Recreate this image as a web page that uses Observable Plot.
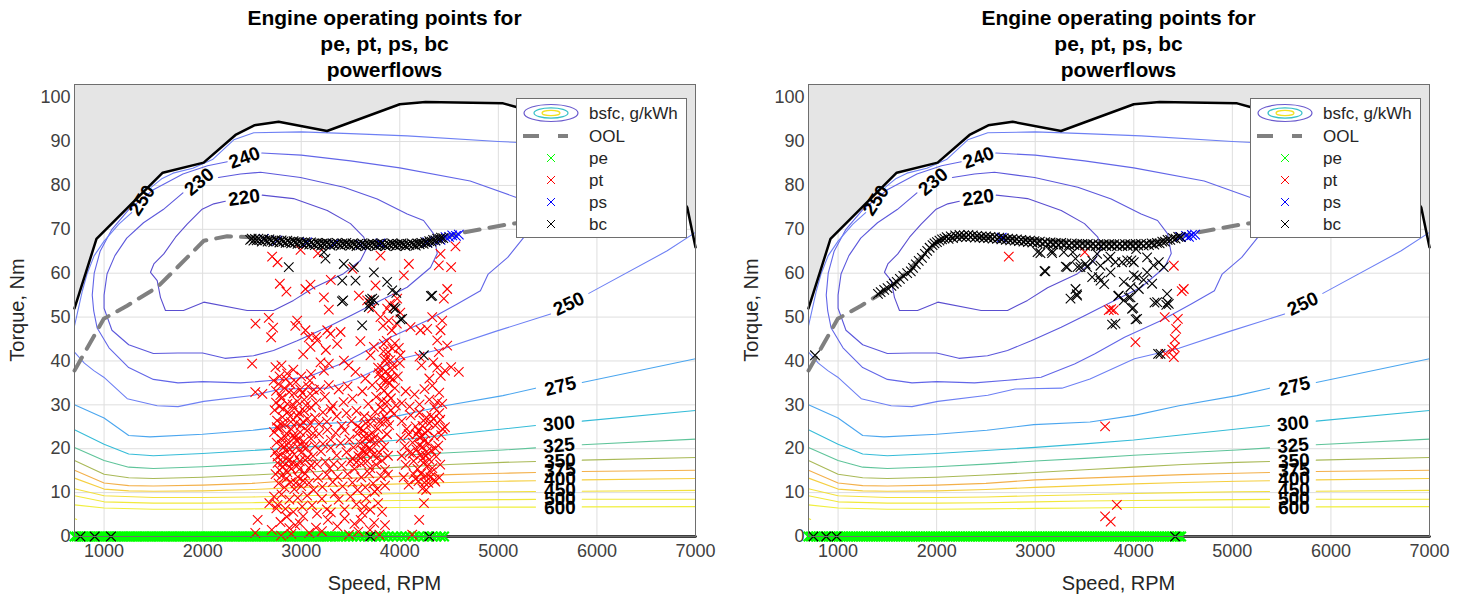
<!DOCTYPE html>
<html><head><meta charset="utf-8">
<script src="https://cdn.jsdelivr.net/npm/d3@7"></script>
<script src="https://cdn.jsdelivr.net/npm/@observablehq/plot@0.6"></script>
<style>
body{margin:0;background:#fff;width:1468px;height:597px;overflow:hidden;font-family:"Liberation Sans",Arial,Helvetica,sans-serif;}
.panel{position:absolute;top:0;width:734px;height:597px;}
.tl{position:absolute;width:400px;text-align:center;font-weight:bold;font-size:21px;line-height:26px;color:#000;white-space:nowrap;}
.xl{position:absolute;width:300px;text-align:center;font-size:20px;line-height:24px;color:#262626;}
.yl{position:absolute;width:300px;text-align:center;font-size:20px;line-height:24px;color:#262626;transform:rotate(-90deg);}
.plot{position:absolute;left:0;top:80px;}
.leg{position:absolute;left:516px;top:98px;}
</style>
</head><body>
<div id="p0" class="panel" style="left:0px"></div>
<div id="p1" class="panel" style="left:734px"></div>
<script>
// ---------- axes ----------
const xTicks = [1000,2000,3000,4000,5000,6000,7000];
const yTicks = [0,10,20,30,40,50,60,70,80,90,100];
const titleLines = ["Engine operating points for","pe, pt, ps, bc","powerflows"];
const xLabel = "Speed, RPM";
const yLabel = "Torque, Nm";
const legendLabels = ["bsfc, g/kWh","OOL","pe","pt","ps","bc"];

// ---------- engine limits ----------
const maxTorque = [[700,52],[923,67.8],[1595,82.9],[2010,85.2],[2333,91.5],[2524,93.7],[2771,94.5],[3262,92.4],[4000,98.5],[4262,99],[5048,98.7],[5191,97.8],[5500,95.5],[6000,91],[6500,84],[6848,77.3],[6916,75],[7000,65.9]];
const minTorque = [[700,0],[7000,0]];
const ool = [[700,37.8],[997,49.6],[1234,52.6],[1539,56.8],[1742,61.3],[2012,67.4],[2249,68.4],[2486,68.2],[3000,67.6],[3500,67.1],[4000,67],[4250,67.3],[4450,68.2],[4650,69.3],[5090,71.1],[5500,72.3]];

// ---------- bsfc contours (null = break for inline label) ----------
const levels = [220,230,240,250,275,300,325,350,375,400,450,500,600];
const levelColors = ["#5a4ed0","#5c58dc","#6266e8","#6e80f4","#4ba6ef","#36bcd8","#5fc49a","#a9b957","#f3b04a","#f5cf40","#f3e13c","#f1e93c","#f0ef3e"];
const c220 = [[2604,77.8],[2922,77.0],[3264,74.3],[3500,71.3],[3635,68.2],[3669,65.9],[3601,62.9],[3429,59.9],[3125,56.7],[2922,53.8],[2719,51.5],[2452,51.5],[2012,53.4],[1806,51.5],[1623,51.5],[1572,54.5],[1539,58.3],[1471,60.2],[1505,62.1],[1606,64.4],[1725,68.2],[1843,71.2],[1995,74.6],[2113,75.8],[2230,76.4]];
const c230 = [[2160,81.8],[2384,82.6],[2587,83],[2993,81.8],[3432,79.6],[3771,76.9],[4075,73.5],[4241,72],[4342,69],[4380,64.5],[4312,61.3],[4075,56.8],[3804,53.8],[3500,50.3],[3264,47.7],[2959,44.6],[2719,42.4],[2516,41.2],[2226,40.6],[2000,41.8],[1750,41.8],[1500,41.7],[1250,43.7],[1080,47],[1000,52],[1000,55],[1030,59.8],[1110,64],[1230,68],[1400,71.5],[1600,74.5],[1800,78.3]];
const c240 = [[2600,87.4],[3000,86.9],[3500,85.6],[4000,84],[4714,81],[5190,77.2],[5450,73],[5420,70],[5260,68.2],[5095,63.6],[4897,59.8],[4818,56],[4583,53],[4278,49.2],[3906,45.4],[3601,41.6],[3399,39.3],[3060,36.3],[2722,35.6],[2384,35],[2000,35.3],[1750,35],[1500,35.8],[1250,38.5],[1050,43],[930,47.5],[895,51.4],[880,55],[900,60],[960,65],[1080,70],[1250,74.5],[1500,79],[1800,82.6],[2050,84.5],[2250,85.4]];
const c250 = [[700,48],[745,52.5],[780,56],[830,60],[900,64],[1000,67.3],[1150,71.2],[1280,73.8],null,[1480,79.6],[1590,81.6],[1700,82.8],[1900,83.9],[2100,85.9],[2316,90.4],[2519,92],[3000,92.2],[3500,91.8],[4075,91.3],[5000,90],[5200,89.8],[5600,88],[6000,85],[6500,80.5],[6830,77.3],null,
  [700,42],[800,39.5],[896,37.8],[997,36.3],[1235,31.4],[1539,29.8],[1750,29.6],[2012,30.8],[2519,32.2],[2796,33.6],[3271,33.8],[3556,35.9],[4007,40.5],[4458,42.9],[4980,46.8],[5530,50.7],null,[5918,55.4],[6713,65.1],[7000,69.3]];
const c275 = [[700,30],[1000,27],[1250,23],[1466,22.7],[2000,23.3],[2510,24.2],[2985,25.5],[3556,26.1],[4007,27.6],[4458,29.8],[5046,32.1],[5377,33.8],null,[5851,35.1],[7000,40.5]];
const c300 = [[700,24.3],[1000,21],[1250,18.8],[1500,18.4],[2000,18.9],[2500,19.6],[3000,20.3],[3500,21.1],[4000,22],[4500,23.2],[5046,24.5],[5377,25.3],null,[5851,26.3],[7000,28.7]];
const c325 = [[700,20.3],[1000,17.3],[1250,15.8],[1500,15.5],[2000,15.9],[2500,16.5],[3000,17.2],[3500,17.8],[4000,18.5],[4500,19.1],[5046,19.7],[5377,20.2],null,[5851,20.9],[7000,22.2]];
const c350 = [[700,17.3],[1000,14.2],[1250,13.4],[1500,13.2],[2000,13.5],[2500,14],[3000,14.6],[3500,15.2],[4000,15.8],[4500,16.4],[5046,16.9],[5377,17.1],null,[5851,17.4],[7000,18]];
const c375 = [[700,15.1],[1000,12.2],[1250,11.6],[1500,11.5],[2000,11.7],[2500,12.1],[3000,12.9],[3500,13.3],[4000,13.7],[4500,14.1],[5046,14.4],[5377,14.6],null,[5851,14.8],[7000,15.1]];
const c400 = [[700,13.3],[1000,10.8],[1250,10.4],[1500,10.3],[2000,10.4],[2500,10.7],[3000,11.2],[3500,11.6],[4000,12],[4500,12.3],[5046,12.6],[5377,12.7],null,[5851,12.9],[7000,13.2]];
const c450 = [[700,10.9],[1000,9.3],[1500,8.9],[2000,8.9],[2500,9],[3000,9.3],[3500,9.5],[4000,9.8],[4500,10],[5046,10.2],[5377,10.25],null,[5851,10.3],[7000,10.5]];
const c500 = [[700,9.3],[1000,7.9],[1500,7.6],[2000,7.6],[2500,7.7],[3000,7.9],[3500,8.1],[4000,8.2],[4500,8.3],[5046,8.4],[5377,8.45],null,[5851,8.5],[7000,8.5]];
const c600 = [[700,7.2],[1000,6.5],[1500,6.2],[2000,6.2],[2500,6.3],[3000,6.4],[3500,6.5],[4000,6.6],[4500,6.65],[5046,6.7],[5377,6.7],null,[5851,6.75],[7000,6.8],null,[700,4.1],[722,3.9]];
const contours = [c220,c230,c240,c250,c275,c300,c325,c350,c375,c400,c450,c500,c600];

const labelText   = ["250","240","230","220","250","275","300","325","350","375","400","450","500","600"];
const labelSpeed  = [1385,2425,1965,2420,5715,5630,5615,5615,5625,5625,5625,5625,5625,5625];
const labelTorque = [76.6,86.3,80.8,77.2,53,34.2,25.7,20.7,17.2,15.1,13.1,10.6,8.6,6.5];
const labelAngle  = [-57,-20,-40,-8,-25,-14,-6,-5,-3,-3,-2,-2,-1,-1];

// ---------- operating points: left panel ----------
const peSpeedL = [700,722,745,771,794,818,843,866,889,913,938,960,984,1009,1031,1055,1080,1102,1126,1151,1173,1197,1222,1244,1268,1293,1315,1339,1364,1386,1410,1435,1457,1481,1506,1528,1552,1577,1599,1623,1648,1670,1694,1719,1741,1765,1790,1812,1836,1861,1883,1907,1932,1954,1978,2003,2025,2049,2074,2096,2120,2145,2167,2191,2216,2238,2262,2287,2309,2333,2358,2380,2404,2429,2451,2475,2500,2522,2546,2571,2593,2617,2642,2664,2688,2713,2735,2759,2784,2806,2830,2855,2877,2901,2926,2948,2972,2997,3019,3043,3068,3090,3114,3139,3161,3185,3210,3232,3256,3281,3310,3345,3378,3412,3449,3483,3521,3560,3596,3641,3677,3716,3757,3802,3839,3884,3931,3971,4016,4059,4103,4147,4196,4239,4284,4331,4373,4417,4449];
const ptL = [[2705,63.8],[2993,65.3],[3170,64.5],[2760,62.5],[3520,61],[3804,64],[4413,64.4],[4565,66.1],[4092,62.1],[4396,61.8],[4521,61.4],
[2783,57.6],[3094,57.4],[3043,56.4],[4041,59.5],[4481,56.4],[3754,57.2],[3585,54.9],[3300,58.5],[2850,55.8],
[3230,54.5],[3280,51.7],[4447,54.2],[3669,53.8],[3872,51.9],[3974,54.2],[3804,50],[4329,50],[3950,52.5],[4005,51],[3720,52],[3900,53],
[2536,48.5],[2671,49.8],[2715,47.6],[2695,45.4],[2959,49.2],[3889,49.2],[4109,47.7],[4210,47],[4278,47.3],[4430,49.2],[4413,47],[3043,47],[3077,45.4],[3264,47],[3297,46.2],[3399,46.6],[3830,48],[3920,47],[3970,48.5],[2940,48],[3150,45.5],
[2502,39.4],[3162,44.7],[3365,43.9],[3094,43.2],[4380,44.7],[4481,43.5],[4396,42],[3703,41.3],[3737,43.2],[3838,43.9],[4007,41.3],[3433,40.1],[3880,42],[3950,44],[3990,43],[3600,44.5],[4200,41],[3020,41.5],[3250,42.5],
[2739,38.6],[2857,37.1],[3196,39.7],[3280,39.4],[3230,37.8],[3551,37.5],[4521,38.6],[4599,37.5],[4458,37.8],[3804,36.3],[3872,35.6],[2800,39],[2780,36.5],[2920,38],[3000,36.5],[3100,37],[3480,39],[3650,36],[4300,36],[4380,38.5],[4220,39],[3780,38.5],[3850,40],[4000,39.5],[3920,38],[2534,32.9],[2606,32.5],[4458,24.9],
[2720,35.5],[2745,33.2],[2770,34.8],[2800,31.5],[2830,33.8],[2860,30.2],[2890,34.8],[2925,32.6],[2960,30.8],[2990,33.5],[3030,31.2],[3070,34.2],[3110,32.1],[3150,30.4],[3190,33.6],[3240,31.8],[3280,34.5],
[2730,28.8],[2755,26.4],[2780,29.6],[2810,27.2],[2835,25.5],[2865,28.4],[2895,26.1],[2930,29.2],[2960,27.5],[2995,25.3],[3030,28.6],[3065,26.8],[3100,29.4],[3140,27.1],[3180,25.6],[3220,28.3],[3260,26.2],[3300,29],
[2725,23.8],[2750,21.4],[2775,24.6],[2800,22.2],[2825,20.4],[2850,23.5],[2875,21.2],[2900,24.4],[2930,22.6],[2960,20.5],[2990,23.8],[3025,21.6],[3060,24.1],[3100,22.3],[3140,20.6],[3180,23.4],[3220,21.1],[3265,24.3],[3300,22],
[2735,19.2],[2760,16.8],[2790,18.6],[2815,15.9],[2845,19.5],[2870,17.2],[2900,15.4],[2930,18.7],[2965,16.3],[3000,19.1],[3040,17.4],[3080,15.6],[3120,18.3],[3160,16.5],[3200,19.4],[3245,17],[3290,15.5],
[2740,14.2],[2770,12.1],[2800,13.8],[2830,11.2],[2860,14.6],[2895,12.4],[2930,10.8],[2965,13.6],[3000,11.5],[3040,14.3],[3080,12.2],[3125,10.6],[3170,13.4],[3215,11.3],[3260,14.1],
[2725,9.1],[2760,7.2],[2800,9.6],[2840,6.3],[2880,8.4],[2920,5.6],[2965,8.8],[3010,6.8],[3060,9.3],[3110,7.1],[3160,5.2],[3210,8.6],[3260,6.2],
[2558,3.8],[2534,0.8],[2701,1.5],[2796,0.2],[2677,7.6],[2748,6.4],[2853,4.5],[2939,2.6],[2986,3],[3081,0.8],[3271,3.8],[3366,2.3],[3150,2],[2900,0.6],
[3380,33.5],[3430,30.6],[3470,34.2],[3520,31.4],[3560,28.6],[3620,33.1],[3680,30.2],[3720,34.5],[3760,31.8],[3800,29.5],[3840,33.2],[3870,30.6],[3900,36.2],[3820,38.4],[3860,40.6],[3790,37.2],[3930,39],[3950,33.8],[3980,36.5],[3840,35.5],[3880,32.3],[3810,34],
[3360,27.4],[3410,25.2],[3460,28.1],[3510,26.3],[3570,25.1],[3640,27.4],[3700,25.6],[3750,28.4],[3790,26.2],[3830,28.9],[3870,26.5],[3910,28.8],
[3350,23.6],[3400,21.3],[3440,24.2],[3490,22.1],[3530,20.3],[3570,23.4],[3600,21.2],[3630,24.1],[3660,22.3],[3690,20.1],[3720,23.6],[3750,21.4],[3780,24.5],[3810,22.1],[3840,20.4],[3870,23.3],[3620,19.6],[3650,20.8],[3700,21.9],
[3360,18.5],[3410,16.2],[3460,19.2],[3500,17.1],[3540,15.4],[3580,18.3],[3610,16.6],[3640,19.4],[3670,17.2],[3700,15.6],[3730,18.6],[3760,16.4],[3790,19.1],[3820,17.3],[3850,15.2],[3880,18.4],[3520,17.8],[3560,16.9],
[3370,13.6],[3420,11.4],[3470,14.2],[3520,12.3],[3570,10.6],[3610,13.5],[3650,11.2],[3690,14.4],[3730,12.1],[3770,10.8],[3810,13.7],[3850,11.6],[3880,14.1],
[3380,8.4],[3440,6.2],[3500,9.1],[3560,7.3],[3620,5.4],[3660,8.7],[3700,6.1],[3746,10.2],[3780,7.6],[3820,5.6],[3485,0.4],[3603,3.8],[3698,1.5],[3793,0.4],[3540,2.9],[3850,2.6],
[4020,30.4],[4060,33.1],[4100,29.6],[4150,32.4],[4200,30.1],[4250,33.6],[4300,31.2],[4350,29.5],[4400,32.8],[4430,30.2],
[4020,26.3],[4070,24.5],[4110,27.6],[4160,25.1],[4200,28.2],[4240,26.4],[4280,24.2],[4320,27.5],[4360,25.3],[4400,28.1],[4435,24.5],[4230,25.2],[4270,27.1],
[4010,22.4],[4050,20.6],[4090,23.3],[4130,21.4],[4170,19.8],[4200,22.6],[4230,20.4],[4260,23.5],[4290,21.2],[4320,19.6],[4350,22.8],[4390,20.7],[4420,23.1],[4190,24.1],[4250,21.8],
[4020,18.4],[4060,16.3],[4100,19.1],[4140,17.2],[4180,15.4],[4210,18.6],[4240,16.7],[4270,19.3],[4300,17.5],[4330,15.6],[4370,18.2],[4410,16.4],[4230,17.8],
[4040,13.5],[4090,11.8],[4140,14.2],[4190,12.6],[4230,10.9],[4260,13.8],[4290,12.2],[4320,14.6],[4360,12.5],[4400,13.4],[4268,10.6],[4245,7.6],[4197,3.8],[4126,0.4],[4350,12.9],
[3320,29.8],[3300,20.2],[3330,16.5],[3320,12.4],[3340,9.8],
[2745,30.5],[2788,32.2],[2818,29.1],[2846,35.9],[2878,32.9],[2912,30.1],[2946,35.2],[2978,28.2],[3012,32.7],[3048,29.9],[3088,35.5],[3128,33.4],[2752,24.9],[2798,25.6],[2842,22.6],[2888,27.4],[2920,23.1],[2948,25.9],[2982,22.2],[3018,26.1],[3052,20.2],[3092,25.6],[3120,23.5],[2760,18.2],[2805,20.9],[2858,18],[2888,19.9],[2915,16.9],[2948,21.9],[2985,17.2],[3022,20.4],[3065,18],[2780,15.1],[2812,16.9],[2848,13.2],[2882,15.8],[2945,12.2],[2980,15.3],[3020,12.7],[3100,16.2],
[3600,17.9],[3635,22.8],[3665,18.8],[3688,23],[3712,19.8],[3742,22.6],[3768,17.9],[3598,24.7],[3655,25.8],[3715,26.9],[3820,30.9],[3845,27.4],[3858,37.6],[3890,34.9],[3910,31.5],[3835,42.2],[3868,44.6],[3905,40.2],[3925,42.8],[3820,26.1],[3892,25.4],[3930,35.9],[3960,29.9],[3940,27.9],
[4160,13.1],[4215,14.3],[4250,12.3],[4280,16.1],[4310,13.5],[4195,20.8],[4225,22.9],[4265,18.4],[4300,25.8],[4340,26.8],[4360,20.1],[4170,23.3],[4130,18.9],[4380,30.6],[4410,26.6],[4330,34.4],[4415,36.6],[4340,39.7],
[2790,3.3],[2880,1.9],[3020,4.6],[3210,1.2],[3300,5.5],[3440,4.1],[3580,1.1],[3740,3.1],[3640,6.8]];
const psL = [[2620,67.8],[2756,67.4],[3060,67],[3331,66.7],[3602,66.5],[3804,66.8],[4278,67],[4362,67.4],[4413,67.6],[4464,68.2],[4500,68.3],[4532,68.6],[4570,68.5],[4599,68.8]];
const bcL = [[2482,67.6],[2497,67.9],[2515,67.4],[2531,67.8],[2548,67.5],[2566,67.9],[2581,67.6],[2600,67.2],[2618,67.8],[2637,67.5],[2659,67.2],[2677,67.7],[2698,67.4],[2716,67.1],[2741,67.6],[2758,67.3],[2779,67.0],[2801,67.5],[2818,67.2],[2842,66.9],[2859,67.4],[2881,67.1],[2898,66.8],[2922,67.3],[2939,67],[2962,66.7],[2978,67.2],[3001,66.9],[3019,66.6],[3042,67.1],[3058,66.8],[3081,66.5],[3099,67],[3122,66.7],[3138,66.4],[3161,66.9],[3179,66.6],[3202,66.3],[3218,66.8],[3241,66.5],[3259,66.9],[3282,66.6],[3298,66.3],[3321,66.8],[3339,66.5],[3362,66.9],[3378,66.6],[3401,66.3],[3419,66.8],[3442,66.5],[3458,66.9],[3481,66.6],[3499,66.3],[3522,66.8],[3538,66.5],[3561,66.2],[3579,66.7],[3602,66.4],[3618,66.8],[3641,66.5],[3659,66.2],[3682,66.7],[3698,66.4],[3721,66.8],[3739,66.5],[3762,66.2],[3778,66.7],[3801,66.4],[3819,66.8],[3842,66.5],[3858,66.2],[3881,66.7],[3899,66.4],[3922,66.8],[3938,66.5],[3961,66.2],[3979,66.7],[4002,66.4],[4018,66.8],[4041,66.5],[4059,66.2],[4082,66.7],[4098,66.4],[4121,66.8],[4139,66.5],[4162,66.3],[4178,66.8],[4201,66.6],[4219,66.9],[4242,66.7],[4258,67.1],[4281,66.9],[4299,67.3],[4322,67.2],[4338,67.6],[4361,67.5],[4379,67.9],[4402,67.8],[4418,68.1],[4441,68.0],
[2874,61.4],[3230,64.8],[3246,63.3],[3432,62.1],[3534,61.4],[3551,58.3],[3416,58.3],[3426,53.8],[3737,60.2],[3872,58],[3923,56.1],[3720,54.2],[3686,52.3],[3957,51.9],[4024,49.6],[3618,48.1],[4329,54.9],[4244,41.3],[3700,53.2],[3740,53.8],[3965,55.5],[3413,53.6],[3698,54],[3936,52.1],[4007,49.5],[4316,54.8],
[760,0],[905,0],[1070,0],[3700,0],[4300,0]];

// ---------- operating points: right panel ----------
const peSpeedR = [700,725,750,776,801,826,851,877,902,927,952,978,1003,1028,1053,1079,1104,1129,1154,1180,1205,1230,1255,1281,1306,1331,1356,1382,1407,1432,1457,1483,1508,1533,1558,1584,1609,1634,1659,1685,1710,1735,1760,1786,1811,1836,1861,1887,1912,1937,1962,1988,2013,2038,2063,2089,2114,2139,2164,2190,2215,2240,2265,2291,2316,2341,2366,2392,2417,2442,2467,2493,2518,2543,2568,2594,2619,2644,2669,2695,2720,2745,2770,2796,2821,2846,2871,2897,2922,2947,2972,2998,3023,3048,3073,3099,3124,3149,3174,3200,3225,3250,3275,3301,3326,3351,3376,3402,3427,3452,3477,3503,3528,3553,3578,3604,3629,3654,3679,3705,3730,3755,3780,3806,3831,3856,3881,3907,3932,3957,3982,4008,4033,4058,4083,4109,4134,4159,4184,4210,4235,4260,4285,4311,4336,4361,4386,4412,4437,4462,4480];
const ptR = [[2732,63.8],[3503,64.8],[4406,61.7],[4507,56.4],[3746,51.6],[3797,51.6],[3770,51.8],[4017,44.3],[4314,50],[4447,49.6],[4430,47.3],[4416,45],[4416,43.1],[4321,41.6],[4406,40.9],[4390,42.6],[4486,55.9],[3709,25.1],[3828,7.2],[3709,4.6],[3766,3.4]];
const psR = [[2660,68.1],[4470,68.3],[4530,68.5],[4560,68.3],[4590,68.7],[4622,68.8]];
const bcR = [[1405,55.3],[1432,55.7],[1468,56.2],[1502,56.6],[1541,57.1],[1566,57.6],[1595,58],[1627,58.7],[1662,59.4],[1701,60],[1738,60.4],[1761,61.2],[1789,62],[1818,62.8],[1851,63.5],[1881,64.4],[1904,65.1],[1929,65.8],[1958,66.4],[1978,66.8],[2003,67.1],[2028,67.4],[2055,67.7],[2079,67.9],[2102,68.2],[2121,67.8],[2143,68.4],[2166,68.0],[2188,68.6],[2210,68.2],[2232,68.7],[2255,68.3],[2277,68.6],[2299,68.2],[2322,68.7],[2344,68.3],[2367,68.6],[2389,68.1],[2411,68.5],[2434,68.1],[2456,68.4],[2478,68.0],[2501,68.4],[2523,68.0],[2546,68.3],[2568,67.9],[2590,68.2],[2613,67.8],[2635,68.1],[2657,67.7],[2680,68.0],[2702,67.6],[2725,67.9],[2747,67.5],[2769,67.8],[2792,67.4],[2814,67.7],[2836,67.3],[2859,67.6],[2881,67.2],[2904,67.5],[2926,67.1],[2948,67.4],[2971,67.0],[2993,67.3],[3020,66.9],[3047,67.2],[3074,66.8],[3101,67.1],[3128,66.7],[3155,67.0],[3182,66.6],[3209,66.9],[3236,66.5],[3263,66.9],[3290,66.5],[3317,66.8],[3344,66.4],[3371,66.8],[3398,66.4],[3425,66.7],[3452,66.3],[3479,66.7],[3506,66.3],[3533,66.7],[3560,66.3],[3587,66.6],[3614,66.2],[3641,66.6],[3668,66.2],[3695,66.6],[3722,66.2],[3749,66.6],[3776,66.2],[3803,66.6],[3830,66.2],[3857,66.6],[3884,66.2],[3911,66.6],[3938,66.2],[3965,66.6],[3992,66.3],[4019,66.7],[4046,66.3],[4073,66.7],[4100,66.3],[4127,66.7],[4154,66.4],[4181,66.8],[4208,66.5],[4235,66.9],[4262,66.8],[4289,67.2],[4316,67.2],[4343,67.6],[4370,67.6],[4397,68],[4424,67.9],[4451,68.3],[4478,68.2],
[766,41.3],[3053,64.6],[3172,64.6],[3290,64.8],[3104,60.4],[3324,61.4],[3409,63.3],[3459,61.4],[3527,61.4],[3578,59.1],[3628,64.4],[3662,58.3],[3764,60.2],[3814,62.5],[3933,62.9],[4000,62.5],[3899,58],[3967,56.8],[4034,59.1],[3848,54.9],[3967,54.5],[4034,49.6],[3814,48.5],[3409,56.4],[3425,54.9],[3358,54.2],[3763,63.8],[4135,63.6],[4254,62.5],[4304,61.4],[3510,62.1],[3645,59.1],[4000,59.5],[4135,60.2],[4186,57.6],[4051,56.4],[3899,53.8],[3949,54.5],[4338,55.3],[4355,53],[4237,53.4],[3983,51.9],[4271,41.6],[3662,61.7],[3024,64.8],[3167,65.1],[3381,64.8],[3310,61.5],[3095,60.5],[3429,61.4],[3738,63.2],[3881,62.5],[3976,62.9],[4024,65.5],[3422,55.2],[3842,54.8],[4210,53.3],[4343,53.3],[3995,52.1],[3780,48.3],[4018,49.5],[4247,41.6],[4330,52.8],[3700,57.5],[4100,58.5],[4200,61.8],[3580,62.8],
[750,0],[880,0],[985,0],[4420,0]];

const panels = [
  {pe: peSpeedL, pt: ptL, ps: psL, bc: bcL},
  {pe: peSpeedR, pt: ptR, ps: psR, bc: bcR}
];

// ---------- build tables ----------
const contourRows = [];
levels.forEach((lv, i) => {
  contours[i].forEach(p => {
    contourRows.push(p ? {lv, x: p[0], y: p[1], c: levelColors[i]} : {lv, x: NaN, y: NaN, c: levelColors[i]});
  });
});
const labelRows = labelText.map((t, i) => ({t, x: labelSpeed[i], y: labelTorque[i], a: labelAngle[i]}));
const X = d => d[0], Y = d => d[1];
const FONT = "Liberation Sans, Arial, Helvetica, sans-serif";

function makePlot(P) {
  const peRows = P.pe.map(s => [s, 0]);
  const dotOpts = (col, sw) => ({x: X, y: Y, symbol: "times", r: 4.4, stroke: col, strokeWidth: sw || 1.1, fill: "none"});
  return Plot.plot({
    width: 734, height: 517,
    marginTop: 4, marginBottom: 61, marginLeft: 74, marginRight: 39,
    x: {domain: [700, 7000], axis: null},
    y: {domain: [0, 103], axis: null},
    color: {type: "identity"},
    style: {fontFamily: FONT, background: "transparent", overflow: "visible", color: "#404040"},
    marks: [
      Plot.gridX(xTicks, {stroke: "#dedede", strokeOpacity: 1}),
      Plot.gridY(yTicks, {stroke: "#dedede", strokeOpacity: 1}),
      Plot.areaY(maxTorque, {x: X, y1: Y, y2: 103, fill: "#e5e5e5"}),
      Plot.line(contourRows, {x: "x", y: "y", z: "lv", stroke: "c", strokeWidth: 1.1}),
      Plot.text(labelRows, {x: "x", y: "y", text: "t", rotate: "a", fontSize: 19, fontWeight: "bold", fill: "#000"}),
      Plot.line(ool, {x: X, y: Y, stroke: "#808080", strokeWidth: 4, strokeDasharray: "15,10"}),
      Plot.line(maxTorque, {x: X, y: Y, stroke: "#000", strokeWidth: 2.5}),
      Plot.line(minTorque, {x: X, y: Y, stroke: "#000", strokeWidth: 2.5}),
      Plot.dot(peRows, dotOpts("#00ff00", 2.2)),
      Plot.dot(P.pt, dotOpts("#ff0000")),
      Plot.dot(P.ps, dotOpts("#0000ff")),
      Plot.dot(P.bc, dotOpts("#000000")),
      Plot.frame({stroke: "#6e6e6e", strokeWidth: 1}),
      Plot.axisX(xTicks, {tickSize: 0, tickPadding: 8, fontSize: 18, label: null, fill: "#404040", tickFormat: d => String(d)}),
      Plot.axisY(yTicks, {tickSize: 0, tickPadding: 4, fontSize: 18, label: null, fill: "#404040", tickFormat: d => String(d)})
    ]
  });
}

function legendSvg() {
  const ns = "http://www.w3.org/2000/svg";
  const svg = document.createElementNS(ns, "svg");
  svg.setAttribute("width", 171); svg.setAttribute("height", 140);
  const add = (tag, attrs, txt) => { const e = document.createElementNS(ns, tag); for (const k in attrs) e.setAttribute(k, attrs[k]); if (txt) e.textContent = txt; svg.appendChild(e); return e; };
  add("rect", {x: 0.5, y: 0.5, width: 170, height: 139, fill: "#fff", stroke: "#6e6e6e", "stroke-width": 1});
  const rows = [15, 38, 60, 82, 104, 126];
  add("ellipse", {cx: 35, cy: rows[0], rx: 27, ry: 8.5, fill: "none", stroke: "#6a5acd", "stroke-width": 1.2});
  add("ellipse", {cx: 35, cy: rows[0], rx: 17, ry: 5.2, fill: "none", stroke: "#36c0c8", "stroke-width": 1.2});
  add("ellipse", {cx: 35, cy: rows[0], rx: 9, ry: 2.6, fill: "none", stroke: "#f2e020", "stroke-width": 1.2});
  add("line", {x1: 7, x2: 52, y1: rows[1], y2: rows[1], stroke: "#808080", "stroke-width": 4, "stroke-dasharray": "16,19"});
  const cols = ["#00ff00", "#ff0000", "#0000ff", "#000000"];
  cols.forEach((c, i) => {
    const y = rows[i + 2];
    add("path", {d: `M${35-4},${y-4}L${35+4},${y+4}M${35-4},${y+4}L${35+4},${y-4}`, stroke: c, "stroke-width": 1, fill: "none"});
  });
  legendLabels.forEach((t, i) => add("text", {x: 73, y: rows[i], "dominant-baseline": "central", "font-size": 17, fill: "#262626", "font-family": FONT}, t));
  return svg;
}

panels.forEach((P, k) => {
  const host = document.getElementById("p" + k);
  const cx = 384.5;
  titleLines.forEach((t, i) => {
    const d = document.createElement("div");
    d.className = "tl"; d.textContent = t;
    d.style.left = (cx - 200) + "px"; d.style.top = ([18.3, 44.3, 70][i] - 13) + "px";
    host.appendChild(d);
  });
  const svg = makePlot(P);
  svg.classList.add("plot");
  host.appendChild(svg);
  const xl = document.createElement("div"); xl.className = "xl"; xl.textContent = xLabel;
  xl.style.left = (cx - 150) + "px"; xl.style.top = (583 - 12) + "px"; host.appendChild(xl);
  const yl = document.createElement("div"); yl.className = "yl"; yl.textContent = yLabel;
  yl.style.left = (17 - 150) + "px"; yl.style.top = (310 - 12) + "px"; host.appendChild(yl);
  const lg = document.createElement("div"); lg.className = "leg"; lg.appendChild(legendSvg()); host.appendChild(lg);
});
</script>
</body></html>
